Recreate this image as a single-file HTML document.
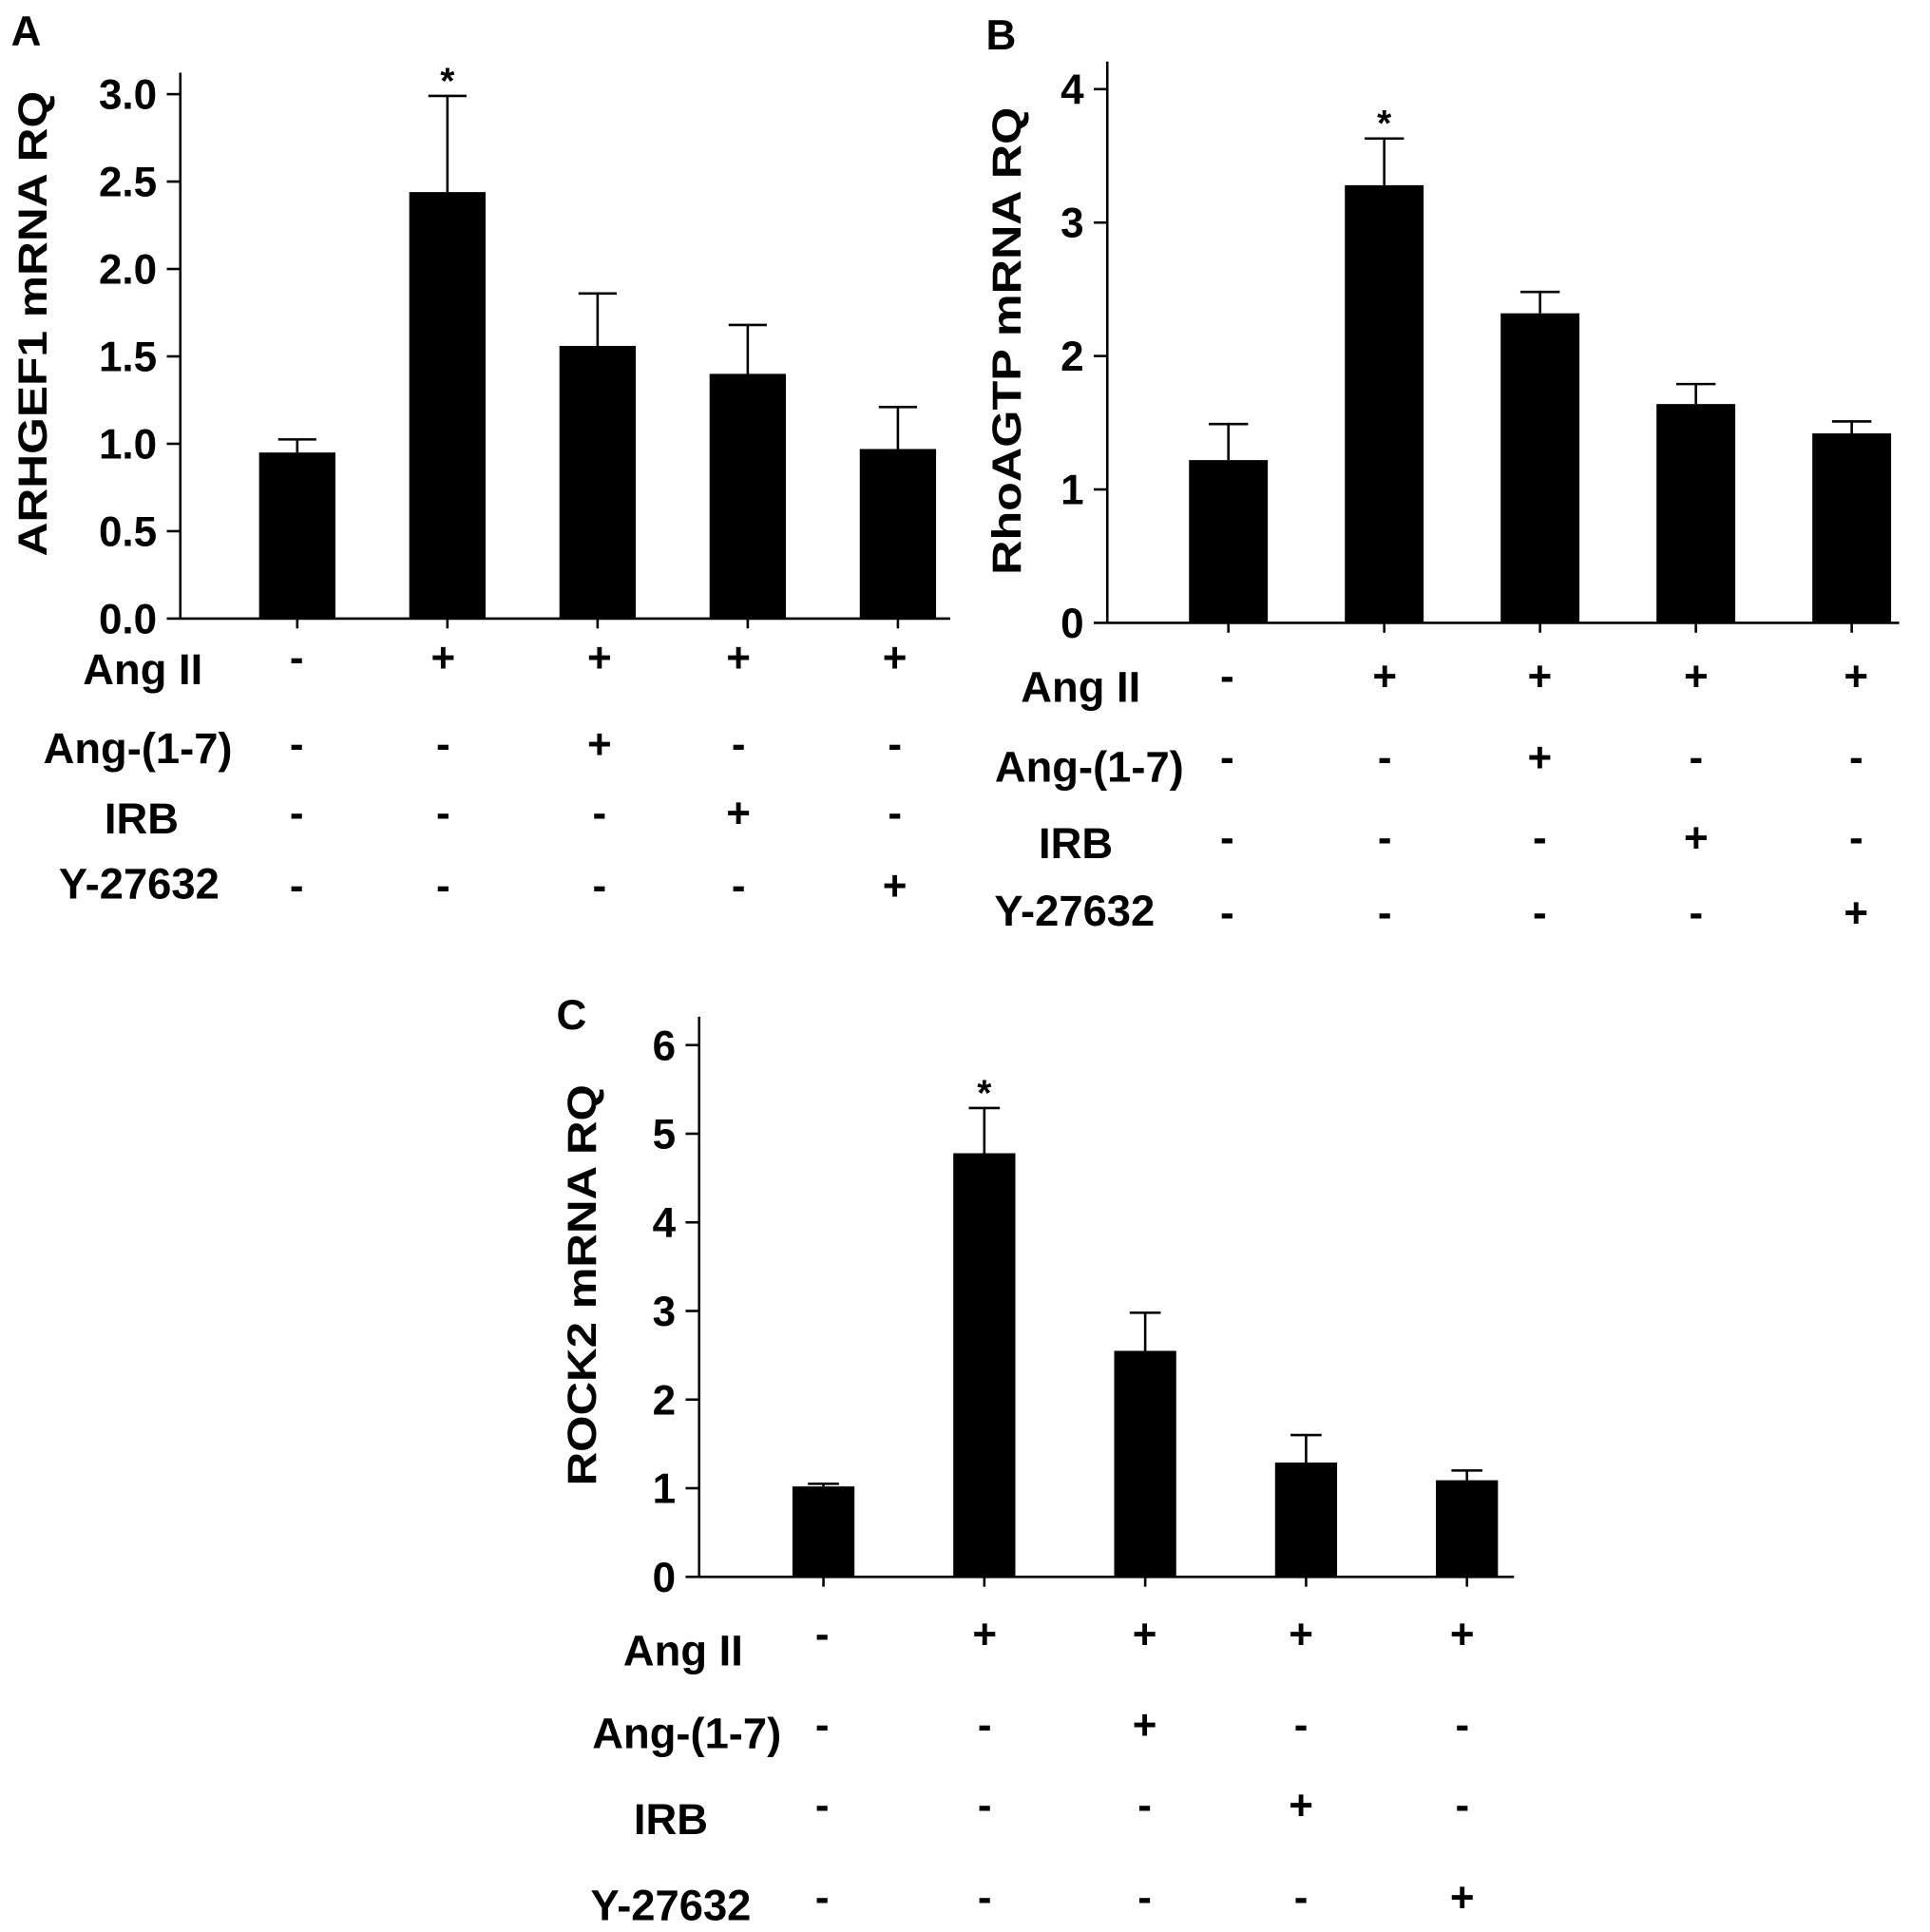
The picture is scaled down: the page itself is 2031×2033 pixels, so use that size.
<!DOCTYPE html>
<html><head><meta charset="utf-8"><style>
html,body{margin:0;padding:0;background:#fff;}
svg{display:block;}
text{font-family:"Liberation Sans",Arial,sans-serif;font-weight:bold;fill:#000;}
</style></head><body>
<svg id="fig" xmlns="http://www.w3.org/2000/svg" width="2031" height="2033" viewBox="0 0 1568 1569.5">
<rect x="0" y="0" width="1568" height="1569.5" fill="#fff"/>
</svg>
<script>
// Panel A data
const catsA = ["G1","G2","G3","G4","G5"];
const valsA = [0.95, 2.44, 1.56, 1.40, 0.97];
const errA = [1.025, 2.99, 1.86, 1.68, 1.21];
const ticksA = ["0.0","0.5","1.0","1.5","2.0","2.5","3.0"];
const tickValsA = [0, 0.5, 1.0, 1.5, 2.0, 2.5, 3.0];
// Panel B data
const valsB = [1.22, 3.28, 2.32, 1.64, 1.42];
const errB = [1.49, 3.63, 2.48, 1.79, 1.51];
const ticksB = ["0","1","2","3","4"];
const tickValsB = [0, 1, 2, 3, 4];
// Panel C data
const valsC = [1.02, 4.78, 2.55, 1.29, 1.09];
const errC = [1.05, 5.29, 2.98, 1.60, 1.20];
const ticksC = ["0","1","2","3","4","5","6"];
const tickValsC = [0, 1, 2, 3, 4, 5, 6];
const signifA = [false, true, false, false, false];
const signifB = [false, true, false, false, false];
const signifC = [false, true, false, false, false];
// treatment table
const rowLabels = ["Ang II","Ang-(1-7)","IRB","Y-27632"];
const signs = [["-","+","+","+","+"],["-","-","+","-","-"],["-","-","-","+","-"],["-","-","-","-","+"]];

const NS = "http://www.w3.org/2000/svg";
const svg = document.getElementById('fig');
function el(tag, attrs, parent, txt){
  const e = document.createElementNS(NS, tag);
  for (const k in attrs) e.setAttribute(k, attrs[k]);
  if (txt !== undefined) e.textContent = txt;
  (parent||svg).appendChild(e);
  return e;
}

function panel(cfg){
  const g = el('g', {});
  
  
  const y = v => cfg.y0 - (v - 0) * cfg.unit;
  const xc = i => cfg.c0 + i * cfg.step;
  const L = el('text', {x: cfg.letter[0], y: cfg.letter[1], 'font-size': 34}, g, cfg.letterText);
  
  
  const ya = el('line', {x1: cfg.ax, y1: cfg.top, x2: cfg.ax, y2: cfg.y0, stroke: '#000', 'stroke-width': 2}, g);
  
  
  const xa = el('line', {x1: cfg.ax, y1: cfg.y0, x2: cfg.xend, y2: cfg.y0, stroke: '#000', 'stroke-width': 2}, g);
  
  
  cfg.tickVals.forEach((v, i) => {
    const t = el('line', {x1: cfg.ax - 11, y1: y(v), x2: cfg.ax, y2: y(v), stroke: '#000', 'stroke-width': 2}, g);
    
    
    const tl = el('text', {x: cfg.ax - 19, y: y(v) + 12, 'font-size': 34, 'text-anchor': 'end'}, g, cfg.ticks[i]);
    
    
  });
  const yt = el('text', {x: 0, y: 0, 'font-size': 33, 'text-anchor': 'middle', transform: `translate(${cfg.titleX},${cfg.titleY}) rotate(-90)`, textLength: cfg.titleLen, lengthAdjust: 'spacingAndGlyphs'}, g, cfg.title);
  
  
  cfg.vals.forEach((v, i) => {
    const cx = xc(i);
    const xt = el('line', {x1: cx, y1: cfg.y0, x2: cx, y2: cfg.y0 + 8, stroke: '#000', 'stroke-width': 2}, g);
    
    
    const e = cfg.err[i];
    const el1 = el('line', {x1: cx, y1: y(e), x2: cx, y2: y(v), stroke: '#000', 'stroke-width': 2}, g);
    
    
    const cap = el('line', {x1: cx - cfg.bw/4, y1: y(e), x2: cx + cfg.bw/4, y2: y(e), stroke: '#000', 'stroke-width': 2}, g);
    
    
    const b = el('rect', {x: cx - cfg.bw/2, y: y(v), width: cfg.bw, height: y(0) - y(v), fill: '#000'}, g);
    
    
    if (cfg.signif[i]) {
      const s = el('text', {x: cx, y: y(e) - 2, 'font-size': 30, 'text-anchor': 'middle'}, g, '*');
      
      
    }
  });
  rowLabels.forEach((lab, r) => {
    const t = el('text', {x: cfg.rowLabelX[r], y: cfg.rowBase[r], 'font-size': 35, 'text-anchor': 'middle'}, g, lab);
    
    
    signs[r].forEach((s, c) => {
      const st = el('text', {x: cfg.signX[c], y: cfg.signY[r] + 11, 'font-size': 34, 'text-anchor': 'middle'}, g, s === '-' ? '-' : '+');
      
      
    });
  });
}

panel({name:'panel-a-arhgef1', letterText:'A', letter:[9,37], ax:146.5, top:59, y0:502.5, unit:142, xend:772,
  c0:241.5, step:122, bw:62, vals:valsA, err:errA, ticks:ticksA, tickVals:tickValsA, signif:signifA,
  title:'ARHGEF1 mRNA RQ', titleX:38, titleY:263, titleLen:378,
  rowLabelX:[116,112,115,113], rowBase:[556,620,677,730], signY:[535,605,661,720], signX:[241,360,487,600,727]});
panel({name:'panel-b-rhoagtp', letterText:'B', letter:[801,40], ax:899.6, top:50, y0:506, unit:108.4, xend:1543,
  c0:998, step:126.6, bw:64, vals:valsB, err:errB, ticks:ticksB, tickVals:tickValsB, signif:signifB,
  title:'RhoAGTP mRNA RQ', titleX:829, titleY:277, titleLen:380,
  rowLabelX:[878,885,874,873], rowBase:[570,635,697,752], signY:[550,616,681,742], signX:[997,1125,1251,1378,1508]});
panel({name:'panel-c-rock2', letterText:'C', letter:[452,836], ax:568, top:826, y0:1281, unit:72, xend:1230,
  c0:669, step:130.7, bw:50.4, vals:valsC, err:errC, ticks:ticksC, tickVals:tickValsC, signif:signifC,
  title:'ROCK2 mRNA RQ', titleX:484, titleY:1044, titleLen:326,
  rowLabelX:[555,558,545,545], rowBase:[1353,1420,1490,1560], signY:[1328,1402,1467,1542], signX:[668,800,930,1057,1188]});
</script>
</body></html>
